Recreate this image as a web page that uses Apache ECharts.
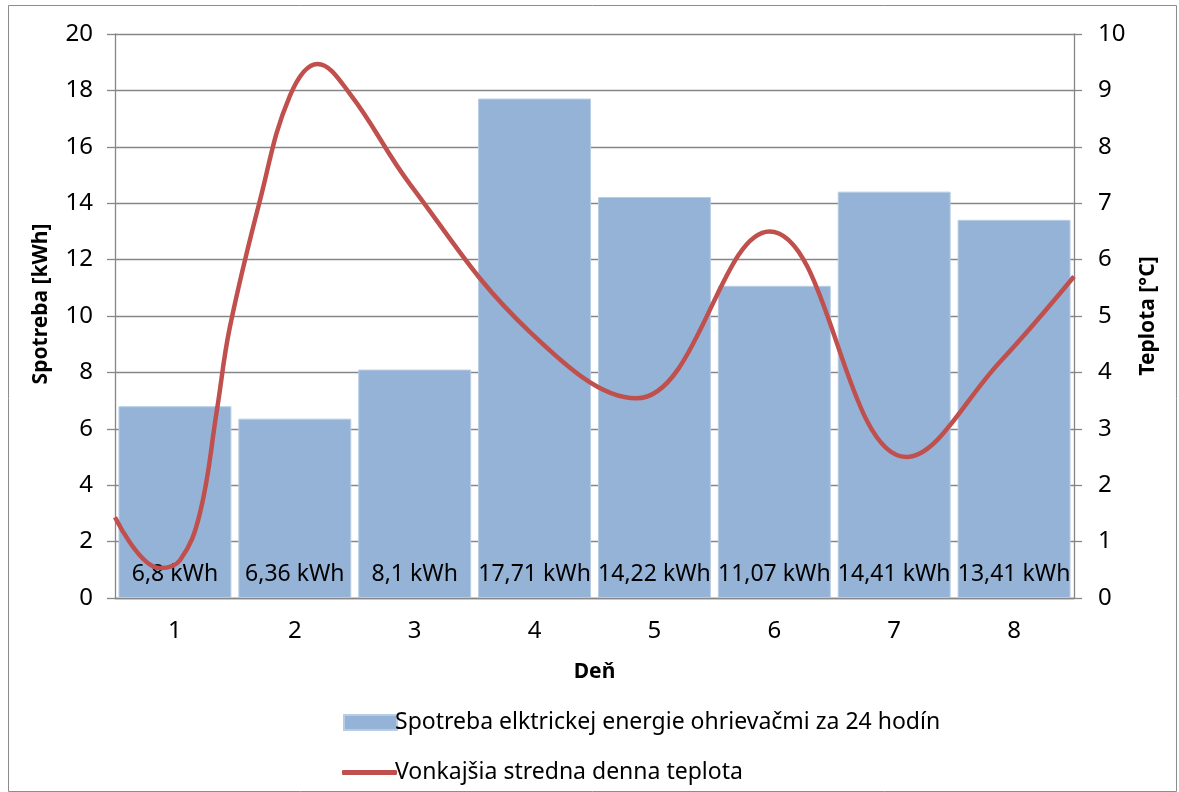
<!DOCTYPE html>
<html>
<head>
<meta charset="utf-8">
<script src="https://cdn.jsdelivr.net/npm/echarts@6/dist/echarts.min.js"></script>
<style>
html,body{margin:0;padding:0;background:#fff;}
#chart{width:1179px;height:792px;}
</style>
</head>
<body>
<div id="chart"></div>
<script>
// ---- data ----
const days = ['1', '2', '3', '4', '5', '6', '7', '8'];
const consumption = [6.8, 6.36, 8.1, 17.71, 14.22, 11.07, 14.41, 13.41];
// temperature curve: position along days (0..8) and value in °C
const tempPos = [0, 0.375, 0.542, 0.708, 0.85, 0.958, 1.208, 1.458, 1.69, 1.96, 2.46, 3.46, 4.35, 5.46, 6.6, 7.38, 8];
const tempVal = [1.43, 0.53, 0.67, 1.5, 3.33, 4.8, 7.04, 8.9, 9.47, 8.94, 7.34, 4.72, 3.54, 6.5, 2.5, 4.18, 5.7];
const leftTicks = {min: 0, max: 20, interval: 2};
const rightTicks = {min: 0, max: 10, interval: 1};
const barName = 'Spotreba elktrickej energie ohrievačmi za 24 hodín';
const lineName = 'Vonkajšia stredna denna teplota';

const FONT = '"Noto Sans", "Open Sans", sans-serif';
const GRID = '#868686';
const chart = echarts.init(document.getElementById('chart'), null, {renderer: 'canvas'});
const tempData = tempPos.map((p, i) => [p, tempVal[i]]);

chart.setOption({
  animation: false,
  backgroundColor: '#ffffff',
  textStyle: {fontFamily: FONT, color: '#000'},
  graphic: [{
    type: 'rect', shape: {x: 8.5, y: 5.5, width: 1168, height: 786},
    style: {fill: 'none', stroke: '#8c8c8c', lineWidth: 1}, silent: true, z: -1
  }],
  grid: {left: 115, top: 34, right: 105, bottom: 194, containLabel: false},
  legend: [{
    orient: 'vertical', left: 338, top: 706,
    itemWidth: 53, itemHeight: 15,
    textStyle: {fontFamily: FONT, fontSize: 23, color: '#000', padding: [0, 0, 0, -7]},
    data: [{name: barName, icon: 'rect'}]
  }, {
    orient: 'vertical', left: 337, top: 756,
    itemWidth: 55, itemHeight: 5,
    textStyle: {fontFamily: FONT, fontSize: 23, color: '#000', padding: [0, 0, 0, -7]},
    data: [{name: lineName, icon: 'roundRect'}]
  }],
  xAxis: [{
    type: 'category', data: days,
    axisLine: {lineStyle: {color: GRID, width: 1.3}},
    axisTick: {show: false},
    axisLabel: {fontFamily: FONT, fontSize: 24, color: '#000', margin: 21},
    name: 'Deň', nameLocation: 'middle', nameGap: 64,
    nameTextStyle: {fontFamily: FONT, fontSize: 21, fontWeight: 'bold', color: '#000'}
  }, {
    type: 'value', min: 0, max: 8, show: false
  }],
  yAxis: [{
    type: 'value', min: leftTicks.min, max: leftTicks.max, interval: leftTicks.interval,
    axisLine: {show: true, lineStyle: {color: GRID, width: 1.3}},
    axisTick: {show: true, length: 8, lineStyle: {color: GRID, width: 1.3}},
    axisLabel: {fontFamily: FONT, fontSize: 24, color: '#000', margin: 22},
    splitLine: {show: true, lineStyle: {color: GRID, width: 1.3}},
    name: 'Spotreba [kWh]', nameLocation: 'middle', nameGap: 63, nameRotate: 90,
    nameTextStyle: {fontFamily: FONT, fontSize: 21, fontWeight: 'bold', color: '#000', padding: [0, 0, 0, 24]}
  }, {
    type: 'value', position: 'right', min: rightTicks.min, max: rightTicks.max, interval: rightTicks.interval,
    axisLine: {show: true, lineStyle: {color: GRID, width: 1.3}},
    axisTick: {show: true, length: 8, lineStyle: {color: GRID, width: 1.3}},
    axisLabel: {fontFamily: FONT, fontSize: 24, color: '#000', margin: 24},
    splitLine: {show: false},
    name: 'Teplota [°C]', nameLocation: 'middle', nameGap: 64, nameRotate: 90,
    nameTextStyle: {fontFamily: FONT, fontSize: 21, fontWeight: 'bold', color: '#000'}
  }],
  series: [{
    name: barName, type: 'bar', data: consumption,
    xAxisIndex: 0, yAxisIndex: 0,
    barCategoryGap: '5.8%',
    itemStyle: {color: '#95B3D7', borderColor: '#b8cce4', borderWidth: 1},
    label: {
      show: true, position: 'insideBottom', distance: 12,
      fontFamily: FONT, fontSize: 23, color: '#000',
      formatter: p => String(p.value).replace('.', ',') + ' kWh'
    },
    z: 2
  }, {
    name: lineName, type: 'line', data: tempData,
    xAxisIndex: 1, yAxisIndex: 1,
    smooth: 0.4, symbol: 'none', showSymbol: false,
    lineStyle: {color: '#C0504D', width: 4.5},
    itemStyle: {color: '#C0504D'},
    z: 3
  }]
});
</script>
</body>
</html>
